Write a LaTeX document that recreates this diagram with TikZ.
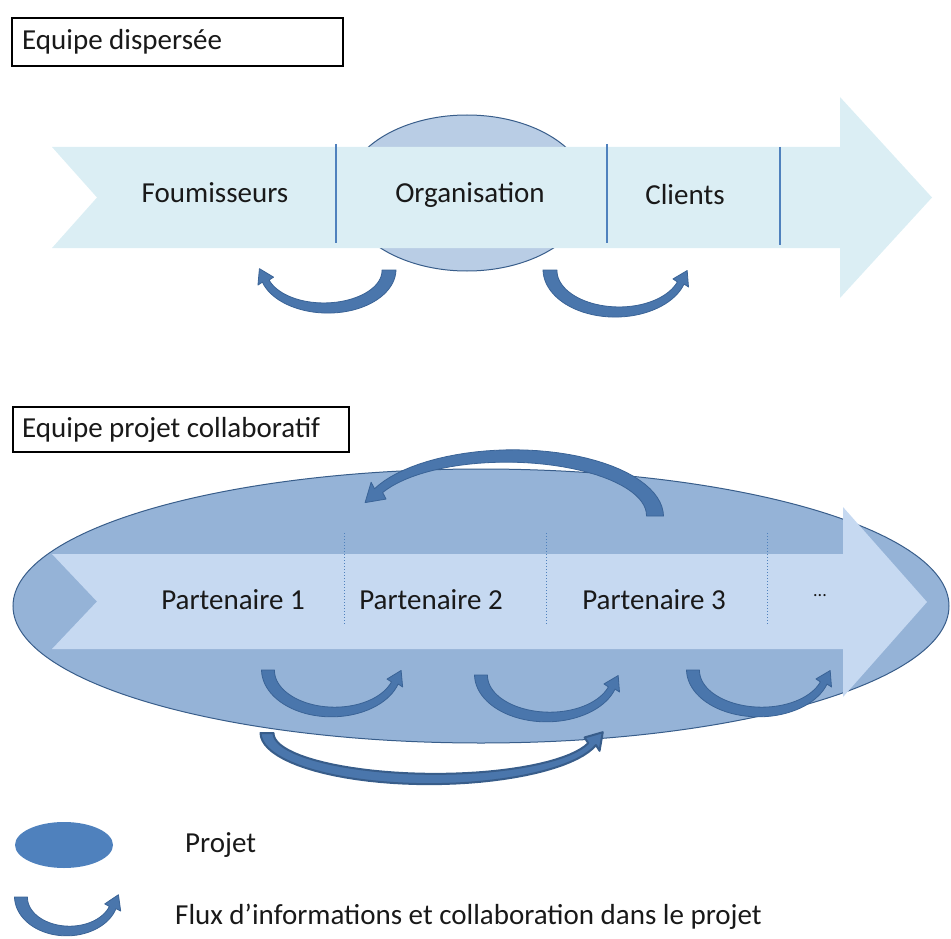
\documentclass[tikz,border=0pt]{standalone}
\usepackage{fontspec}
\setmainfont{Carlito}
\definecolor{bandA}{HTML}{DBEEF4}
\definecolor{orgfill}{HTML}{B9CDE5}
\definecolor{edgeblue}{HTML}{385D8A}
\definecolor{sepblue}{HTML}{4F81BD}
\definecolor{projfill}{HTML}{95B3D7}
\definecolor{bandB}{HTML}{C6D9F1}
\definecolor{arrowfill}{HTML}{4A76AC}
\definecolor{arrowedge}{HTML}{3A6396}
\newcommand\flowarrow[9]{%
 \pgfmathsetmacro\fsg{ifthenelse(#7>#6,1,-1)}%
 \pgfmathsetmacro\fca{cos(#7)}%
 \pgfmathsetmacro\fsa{sin(#7)}%
 \pgfmathsetmacro\ftx{-\fsg*#4*\fsa}%
 \pgfmathsetmacro\fty{\fsg*#5*\fca}%
 \pgfmathsetmacro\ftn{veclen(\ftx,\fty)}%
 \pgfmathsetmacro\ftx{\ftx/\ftn}%
 \pgfmathsetmacro\fty{\fty/\ftn}%
 \pgfmathsetmacro\fnx{\fca/#4}%
 \pgfmathsetmacro\fny{\fsa/#5}%
 \pgfmathsetmacro\fnn{veclen(\fnx,\fny)}%
 \pgfmathsetmacro\fnx{\fnx/\fnn}%
 \pgfmathsetmacro\fny{\fny/\fnn}%
 \pgfmathsetmacro\fpx{#2+#4*\fca}%
 \pgfmathsetmacro\fpy{#3+#5*\fsa}%
 \pgfmathsetmacro\fhw{#9*1.25}%
 \pgfmathsetmacro\fhl{#9*2.0}%
 \filldraw[#1] plot[domain=#6:#7, samples=40] ({#2+(#4+0.5*(#8+(#9-#8)*(\x-#6)/(#7-#6)))*cos(\x)}, {#3+(#5+0.5*(#8+(#9-#8)*(\x-#6)/(#7-#6)))*sin(\x)})
  -- ({\fpx+\fhw*\fnx}, {\fpy+\fhw*\fny})
  -- ({\fpx+\fhl*\ftx}, {\fpy+\fhl*\fty})
  -- ({\fpx-\fhw*\fnx}, {\fpy-\fhw*\fny})
  -- plot[domain=#7:#6, samples=40] ({#2+(#4-0.5*(#8+(#9-#8)*(\x-#6)/(#7-#6)))*cos(\x)}, {#3+(#5-0.5*(#8+(#9-#8)*(\x-#6)/(#7-#6)))*sin(\x)})
  -- cycle;%
}
\tikzset{
 lbl/.style={font=\fontsize{29}{34}\selectfont, text=black!90, inner sep=0pt},
 titlebox/.style={draw=black, line width=1.5pt, fill=white},
 sepline/.style={draw=sepblue, line width=1.5pt},
 sepdot/.style={draw=sepblue, line width=1pt, dotted},
 flow/.style={fill=arrowfill, draw=arrowedge, line width=0.8pt, line join=round},
 bigflow/.style={fill=arrowfill, draw=edgeblue, line width=2pt, line join=round},
}
\begin{document}
\begin{tikzpicture}[x=1pt, y=-1pt]
\useasboundingbox (0,0) rectangle (951,939);
% ---------- Equipe dispersee ----------
\draw[titlebox] (12,18) rectangle (343,66);
\node[lbl, anchor=west] (t1) at (22,42) {Equipe dispersée};
\filldraw[fill=orgfill, draw=edgeblue, line width=1pt] (467,193) ellipse [x radius=122, y radius=78];
\fill[bandA] (52,147) -- (840,147) -- (840,97) -- (932,197.5) -- (840,298) -- (840,248) -- (52,248) -- (97,197.5) -- cycle;
\draw[sepline] (336,144) -- (336,243);
\draw[sepline] (607,144) -- (607,243);
\draw[sepline] (780,147) -- (780,245);
\node[lbl] (f) at (215,193) {Foumisseurs};
\node[lbl] (o) at (470,195) {Organisation};
\node[lbl] (c) at (685,195) {Clients};
\flowarrow{flow}{326}{270}{63}{38}{0}{163}{14}{7}
\flowarrow{flow}{617}{270}{67}{42}{180}{18}{14}{7}
% ---------- Equipe projet collaboratif ----------
\draw[titlebox] (13,407) rectangle (349,452);
\node[lbl, anchor=west] (t2) at (22,430) {Equipe projet collaboratif};
\filldraw[fill=projfill, draw=edgeblue, line width=1pt] (481,606) ellipse [x radius=468, y radius=137];
\fill[bandB] (52,554) -- (843,554) -- (843,507) -- (927,602) -- (843,697) -- (843,649) -- (52,649) -- (97,601.5) -- cycle;
\draw[sepdot] (344,533) -- (344,625);
\draw[sepdot] (546,533) -- (546,625);
\draw[sepdot] (767,533) -- (767,625);
\node[lbl] (p1) at (233,600) {Partenaire 1};
\node[lbl] (p2) at (431,600) {Partenaire 2};
\node[lbl] (p3) at (654,600) {Partenaire 3};
\node[lbl, font=\fontsize{18}{20}\selectfont] (pd) at (820,596) {...};
\flowarrow{flow}{333}{670}{65}{42}{180}{18}{13}{7}
\flowarrow{flow}{548}{675}{67}{42}{180}{18}{13}{7}
\flowarrow{flow}{760}{670}{67}{42}{180}{18}{13}{7}
\flowarrow{flow}{510}{516}{145}{60}{0}{-155}{17}{9}
\flowarrow{bigflow}{432}{733}{165}{46}{180}{14}{13}{8}
% ---------- Legend ----------
\fill[sepblue] (64,845) ellipse [x radius=49, y radius=23];
\node[lbl, anchor=west] (lp) at (185,845) {Projet};
\flowarrow{flow}{68}{897}{47}{34}{180}{18}{13}{7}
\node[lbl, anchor=west] (lf) at (175,917) {Flux d’informations et collaboration dans le projet};
\end{tikzpicture}
\end{document}
